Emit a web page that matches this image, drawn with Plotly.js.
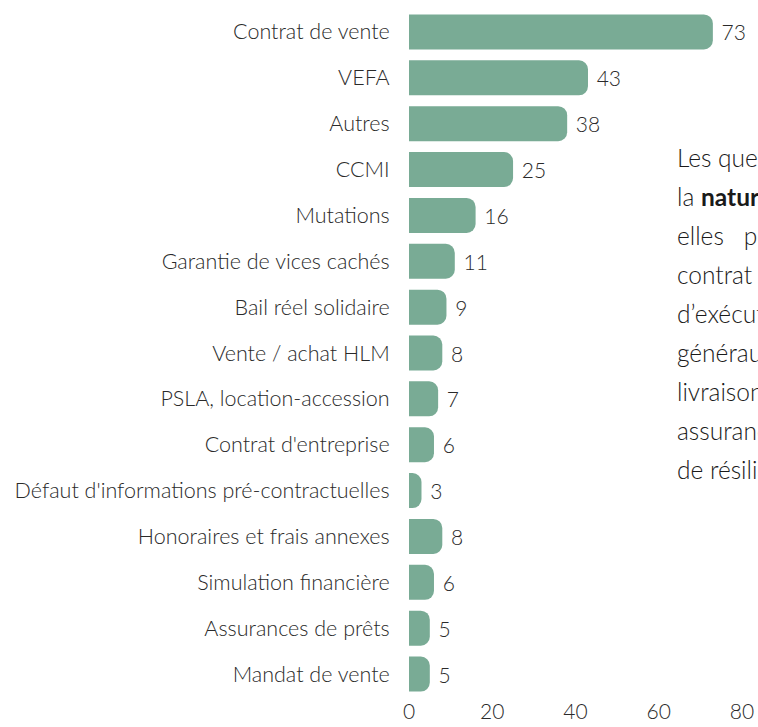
<!DOCTYPE html>
<html>
<head>
<meta charset="utf-8">
<script src="https://cdn.plot.ly/plotly-3.0.1.min.js"></script>
<style>
html,body{margin:0;padding:0;background:#fff;overflow:hidden;}
#chart{width:758px;height:727px;}
</style>
</head>
<body>
<div id="chart"></div>
<script>
const categories = [
  "Contrat de vente", "VEFA", "Autres", "CCMI", "Mutations",
  "Garantie de vices cachés", "Bail réel solidaire", "Vente / achat HLM",
  "PSLA, location-accession", "Contrat d'entreprise",
  "Défaut d'informations pré-contractuelles", "Honoraires et frais annexes",
  "Simulation financière", "Assurances de prêts", "Mandat de vente"
];
const values = [73, 43, 38, 25, 16, 11, 9, 8, 7, 6, 3, 8, 6, 5, 5];
const xTicks = [0, 20, 40, 60, 80];
const noteLines = [
  "Les questions portent sur",
  "la <b>nature des contrats</b> :",
  "elles\u00a0\u00a0\u00a0portent sur le",
  "contrat de vente, ses conditions",
  "d’exécution, les frais",
  "généraux et annexes, la",
  "livraison des logements, les",
  "assurances ou les conditions",
  "de résiliation."
];

const FONT = "Lato, 'Open Sans', sans-serif";
const W = 758, H = 727;
const M = {l: 409, r: 0, t: 9, b: 30};
const plotH = H - M.t - M.b;

const trace = {
  type: "bar",
  orientation: "h",
  x: values,
  y: categories,
  marker: {color: "#79ab95", cornerradius: 9},
  texttemplate: "\u00a0%{x}",
  textposition: "outside",
  cliponaxis: false,
  textfont: {family: FONT, size: 21, color: "#2a2a2a", weight: 300},
  hoverinfo: "skip"
};

const annotations = noteLines.map((t, i) => ({
  xref: "paper", yref: "paper",
  x: (675 - M.l) / (W - M.l - M.r),
  y: (H - M.b - (157 + 39 * i)) / plotH,
  xanchor: "left", yanchor: "middle",
  text: t, showarrow: false, align: "left",
  font: {family: FONT, size: 24.5, color: "#1a1a1a", weight: 300}
}));

const layout = {
  width: W, height: H,
  margin: M,
  paper_bgcolor: "#ffffff",
  plot_bgcolor: "#ffffff",
  showlegend: false,
  bargap: 0.237,
  font: {family: FONT, color: "#2a2a2a"},
  xaxis: {
    range: [0, (W - M.l - M.r) / 4.1625],
    tickvals: xTicks,
    ticktext: xTicks.map(String),
    showgrid: false, zeroline: false, showline: false,
    ticks: "", ticklen: 0,
    tickfont: {family: FONT, size: 21, color: "#2a2a2a", weight: 300},
    fixedrange: true
  },
  yaxis: {
    autorange: "reversed",
    showgrid: false, zeroline: false, showline: false,
    ticks: "outside", ticklen: 14, tickcolor: "rgba(0,0,0,0)",
    tickfont: {family: FONT, size: 21.5, color: "#2a2a2a", weight: 300},
    fixedrange: true
  },
  annotations: annotations
};

Plotly.newPlot("chart", [trace], layout, {displayModeBar: false, staticPlot: true});
</script>
</body>
</html>
